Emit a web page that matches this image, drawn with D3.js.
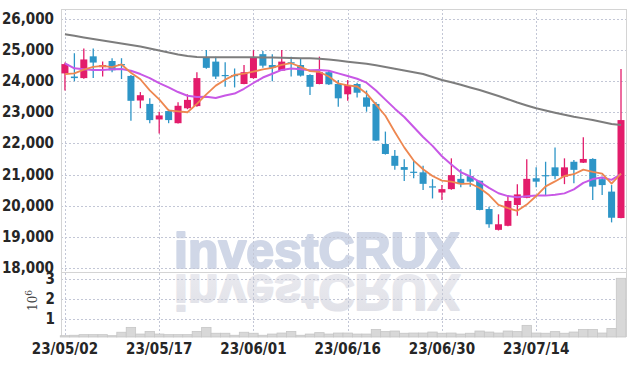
<!DOCTYPE html>
<html>
<head>
	<meta charset="utf-8">
	<style>
		body { margin: 0; background: #fff; }
		.tick-label { font-family: "Liberation Sans Narrow", "DejaVu Sans Condensed", sans-serif; font-weight: bold; fill: #262626; }
	</style>
</head>
<body>
<div id="chartContainer"></div>
<script src="https://cdn.jsdelivr.net/npm/d3@7/dist/d3.min.js"></script>
<script type="text/javascript">

// Daily candles (23/05/02 .. 23/07/27)
var dates = ["23/05/02","23/05/03","23/05/04","23/05/08","23/05/09","23/05/10","23/05/11","23/05/12","23/05/15","23/05/16",
	"23/05/17","23/05/18","23/05/19","23/05/22","23/05/23","23/05/24","23/05/25","23/05/26","23/05/30","23/05/31",
	"23/06/01","23/06/02","23/06/05","23/06/07","23/06/08","23/06/09","23/06/12","23/06/13","23/06/14","23/06/15",
	"23/06/16","23/06/19","23/06/20","23/06/21","23/06/22","23/06/23","23/06/26","23/06/27","23/06/28","23/06/29",
	"23/06/30","23/07/03","23/07/04","23/07/05","23/07/06","23/07/07","23/07/10","23/07/11","23/07/12","23/07/13",
	"23/07/14","23/07/17","23/07/18","23/07/19","23/07/20","23/07/21","23/07/24","23/07/25","23/07/26","23/07/27"];
var opens = [24250,24150,24100,24800,24450,24650,24550,24170,23380,23270,
	22770,23040,22650,23130,23200,24760,24630,24200,24200,23910,
	24100,24870,24520,24340,24610,24520,24200,23910,24290,23910,
	23580,23910,23480,23270,21980,21600,21240,21090,21070,20620,
	20420,20530,20860,20950,20800,19890,19220,19350,20020,20250,
	20880,20980,21230,20930,21410,21380,21500,20850,20450,19600];
var highs = [24600,24900,25050,25050,24630,24740,24740,24200,23650,23450,
	23020,23100,23320,23580,24290,25000,24790,24610,24410,24520,
	25000,24970,24870,25000,24790,24740,24220,24790,24350,24040,
	24040,23950,23700,23330,22380,21790,21490,21440,21280,20850,
	20660,21520,21170,21170,20800,19960,19720,20340,20690,21490,
	21230,21410,21870,21520,21470,22200,21520,20930,20660,24390];
var lows = [23700,24000,24080,24100,24150,24290,24070,22730,23130,22650,
	22320,22650,22640,23100,23180,24400,24070,23820,23800,23900,
	24080,24430,24000,24330,24150,24150,23560,23900,23880,23180,
	23370,23480,23020,22080,21640,21150,20790,20880,20500,20230,
	20180,20510,20590,20610,19850,19290,19200,19340,19670,20240,
	20590,20340,20850,20690,20720,21370,20180,20340,19460,19590];
var closes = [24550,24100,24700,24600,24520,24350,24520,23370,23550,22750,
	22900,22750,23210,23400,24100,24430,24150,24170,24170,24290,
	24760,24500,24430,24630,24570,24180,23820,24290,23900,23450,
	23880,23630,23180,22090,21660,21280,21150,21060,20700,20580,
	20530,20980,20690,20770,19860,19400,19400,20150,20360,20860,
	20770,20950,20950,21230,21150,21500,20610,20660,19610,22750];
// Volume in millions of shares
var volumes = [0.19,0.21,0.24,0.24,0.24,0.19,0.36,0.60,0.27,0.40,
	0.27,0.24,0.24,0.24,0.40,0.60,0.31,0.31,0.21,0.36,
	0.31,0.21,0.27,0.32,0.40,0.21,0.27,0.34,0.27,0.32,
	0.32,0.27,0.27,0.50,0.39,0.42,0.31,0.32,0.32,0.37,
	0.31,0.32,0.27,0.31,0.42,0.37,0.32,0.42,0.39,0.70,
	0.32,0.31,0.39,0.31,0.37,0.50,0.50,0.32,0.55,3.03];

// Moving averages as drawn (orange = short, purple = medium, gray = long)
var maShort = [24230,24250,24370,24460,24494,24454,24538,24272,24062,23708,
	23418,23064,23032,23002,23272,23578,23858,24050,24204,24242,
	24308,24378,24430,24522,24578,24462,24326,24298,24152,23928,
	23868,23830,23608,23246,22888,22368,21872,21448,21170,20954,
	20804,20770,20696,20710,20566,20340,20024,19916,19834,20034,
	20308,20618,20778,20952,21010,21156,21088,21030,20706,21026];
var maMid = [24576,24415,24383,24360,24360,24383,24395,24338,24230,24101,
	23936,23801,23652,23532,23490,23498,23461,23541,23603,23757,
	23943,24118,24240,24363,24410,24385,24352,24364,24337,24253,
	24165,24078,23953,23699,23408,23118,22851,22528,22208,21921,
	21586,21321,21072,20940,20760,20572,20397,20306,20272,20300,
	20324,20321,20347,20393,20522,20732,20853,20904,20828,21017];
var maLong = [25510,25460,25405,25355,25310,25260,25212,25165,25116,25050,
	24987,24920,24860,24810,24778,24770,24768,24768,24768,24768,
	24768,24765,24762,24755,24746,24740,24736,24720,24698,24665,
	24627,24595,24563,24510,24457,24400,24344,24290,24232,24135,
	24039,23965,23887,23800,23717,23620,23524,23420,23315,23220,
	23129,23060,22987,22920,22858,22805,22752,22690,22624,22592];

var priceTicks = [18000,19000,20000,21000,22000,23000,24000,25000,26000];
var volTicks = [1,2,3];
var dateTicks = [0,10,20,30,40,50];

// Layout
var width = 634, height = 366;
var plot = {left: 61, right: 626, top: 9, split: 272, bottom: 337};

var svg = d3.select("#chartContainer").append("svg")
	.attr("width", width).attr("height", height);

var x = d3.scaleLinear().domain([-0.42, 59.53]).range([plot.left, plot.right]);
var y = d3.scaleLinear().domain([17865, 26322]).range([plot.split, plot.top]);
var yv = d3.scaleLinear().domain([0.124, 3.342]).range([plot.bottom, plot.split]);

var idx = d3.range(dates.length);
var upColor = "#e31c6b", downColor = "#2d95c7";

// Watermark + its reflection
var defs = svg.append("defs");
var grad = defs.append("linearGradient").attr("id", "reflFade")
	.attr("x1", 0).attr("y1", 0).attr("x2", 0).attr("y2", 1);
grad.append("stop").attr("offset", "0%").attr("stop-color", "#dfe0e7");
grad.append("stop").attr("offset", "100%").attr("stop-color", "#ebebf0");

svg.append("text")
	.attr("x", 174).attr("y", 268)
	.style("font-family", "Liberation Sans, Arial, sans-serif")
	.style("font-weight", "bold").style("font-size", "50px")
	.attr("fill", "#d0d7e7").attr("stroke", "#d0d7e7").attr("stroke-width", 2.2)
	.attr("stroke-linejoin", "round")
	.text("investCRUX");
svg.append("text")
	.attr("transform", "translate(0," + (2 * 271.6) + ") scale(1,-1)")
	.attr("x", 174).attr("y", 268)
	.style("font-family", "Liberation Sans, Arial, sans-serif")
	.style("font-weight", "bold").style("font-size", "50px")
	.attr("fill", "url(#reflFade)").attr("stroke", "url(#reflFade)").attr("stroke-width", 2.2)
	.attr("stroke-linejoin", "round")
	.text("investCRUX");

// Grid lines (dotted)
var grid = svg.append("g").attr("stroke", "#c3c7d6").attr("stroke-dasharray", "2,2").attr("stroke-width", 1);
grid.selectAll("line.h").data(priceTicks).enter().append("line")
	.attr("x1", plot.left).attr("x2", plot.right)
	.attr("y1", function(d) { return Math.round(y(d)) + 0.5; })
	.attr("y2", function(d) { return Math.round(y(d)) + 0.5; });
grid.selectAll("line.v").data(volTicks).enter().append("line")
	.attr("x1", plot.left).attr("x2", plot.right)
	.attr("y1", function(d) { return Math.round(yv(d)) + 0.5; })
	.attr("y2", function(d) { return Math.round(yv(d)) + 0.5; });
grid.selectAll("line.d").data(dateTicks).enter().append("line")
	.attr("x1", function(d) { return Math.round(x(d)) + 0.5; })
	.attr("x2", function(d) { return Math.round(x(d)) + 0.5; })
	.attr("y1", plot.top).attr("y2", plot.bottom);

// Frame
var frame = svg.append("g").attr("stroke", "#d4d4d4").attr("fill", "none");
frame.append("line").attr("x1", plot.left).attr("x2", plot.right).attr("y1", plot.top + 0.5).attr("y2", plot.top + 0.5);
frame.append("line").attr("x1", plot.left + 0.5).attr("x2", plot.left + 0.5).attr("y1", plot.top).attr("y2", plot.bottom);
frame.append("line").attr("x1", plot.right + 0.5).attr("x2", plot.right + 0.5).attr("y1", plot.top).attr("y2", plot.bottom);
frame.append("line").attr("x1", plot.left).attr("x2", plot.right).attr("y1", plot.split + 0.5).attr("y2", plot.split + 0.5);

// Volume bars
var step = x(1) - x(0);
svg.append("g").selectAll("rect").data(idx).enter().append("rect")
	.attr("x", function(i) { return x(i) - step / 2; })
	.attr("width", step)
	.attr("y", function(i) { return yv(volumes[i]); })
	.attr("height", function(i) { return plot.bottom - yv(volumes[i]); })
	.attr("fill", "#d8d8d8").attr("stroke", "#c6c6c6").attr("stroke-width", 0.8);

// Candles
var candles = svg.append("g").selectAll("g").data(idx).enter().append("g");
candles.append("line")
	.attr("x1", function(i) { return x(i); }).attr("x2", function(i) { return x(i); })
	.attr("y1", function(i) { return y(highs[i]); }).attr("y2", function(i) { return y(lows[i]); })
	.attr("stroke", function(i) { return closes[i] >= opens[i] ? upColor : downColor; })
	.attr("stroke-width", 1.3);
candles.append("rect")
	.attr("x", function(i) { return x(i) - 3.5; })
	.attr("width", 7)
	.attr("y", function(i) { return y(Math.max(opens[i], closes[i])); })
	.attr("height", function(i) { return Math.max(1.2, Math.abs(y(opens[i]) - y(closes[i]))); })
	.attr("fill", function(i) { return closes[i] >= opens[i] ? upColor : downColor; });

// Moving average lines
function maLine(values, color, w) {
	svg.append("path")
		.datum(idx)
		.attr("fill", "none").attr("stroke", color).attr("stroke-width", w)
		.attr("stroke-linejoin", "round")
		.attr("d", d3.line().x(function(i) { return x(i); }).y(function(i) { return y(values[i]); }));
}
maLine(maLong, "#7d7d7d", 2);
maLine(maMid, "#c858e6", 2);
maLine(maShort, "#ee8750", 1.8);

// Axis labels
svg.append("g").selectAll("text").data(priceTicks).enter().append("text")
	.attr("class", "tick-label")
	.attr("x", 54).attr("y", function(d) { return y(d) + 5; })
	.attr("text-anchor", "end").style("font-size", "15px")
	.text(function(d) { return d3.format(",")(d); });
svg.append("g").selectAll("text").data(volTicks).enter().append("text")
	.attr("class", "tick-label")
	.attr("x", 55).attr("y", function(d) { return yv(d) + 5; })
	.attr("text-anchor", "end").style("font-size", "15px")
	.text(function(d) { return d; });
svg.append("g").selectAll("text").data(dateTicks).enter().append("text")
	.attr("class", "tick-label")
	.attr("x", function(d) { return x(d); }).attr("y", 354)
	.attr("text-anchor", "middle").style("font-size", "15px")
	.text(function(d) { return dates[d]; });

// 10^6 unit label for volume
var unit = svg.append("text")
	.attr("transform", "translate(37,311) rotate(-90)")
	.style("font-family", "DejaVu Serif, serif").style("font-size", "12px")
	.attr("fill", "#444");
unit.append("tspan").text("10");
unit.append("tspan").attr("dy", -5).style("font-size", "9px").text("6");

</script>
</body>
</html>
